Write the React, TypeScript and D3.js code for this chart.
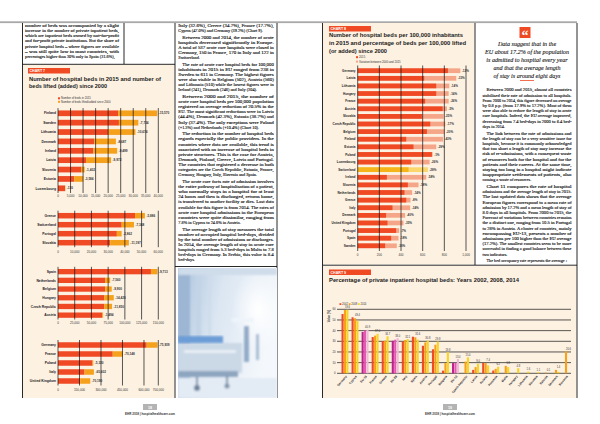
import React from 'react';
import * as d3 from 'd3';

// Chart 7 – beds in 2015 and beds lifted since 2000, four groups
const g1Countries = ['Finland', 'Sweden', 'Lithuania', 'Denmark', 'Ireland', 'Latvia', 'Slovenia', 'Estonia', 'Luxembourg'];
const g1Beds2015 = [24000, 24300, 20200, 14400, 14100, 11200, 9200, 6500, 2800];
const g1Lifted = [15570, 7734, 10674, 8687, 9499, 9972, 1402, 3584, 130];
const g1Ticks = [0, 5000, 10000, 15000, 20000, 25000, 30000, 35000, 40000];

const g2Countries = ['Greece', 'Switzerland', 'Portugal', 'Slovakia'];
const g2Beds2015 = [46100, 38100, 35200, 31200];
const g2Lifted = [5886, 7348, 2862, 11197];
const g2Ticks = [0, 10000, 20000, 30000, 40000, 50000, 60000];

const g3Countries = ['Spain', 'Netherlands', 'Belgium', 'Hungary', 'Czech Republic', 'Austria'];
const g3Beds2015 = [139000, 70500, 70500, 69000, 69000, 66000];
const g3Lifted = [9713, 7560, 9900, 14420, 11850, 1494];
const g3Ticks = [0, 25000, 50000, 75000, 100000, 125000, 150000];

const g4Countries = ['Germany', 'France', 'Poland', 'Italy', 'United Kingdom'];
const g4Beds2015 = [619000, 382000, 241000, 185000, 155000];
const g4Lifted = [75939, 70148, 5330, 65602, 70190];
const g4Ticks = [0, 150000, 300000, 450000, 600000, 700000];

// Chart 8 – beds per 100,000 inhabitants
const c8Countries = ['Germany', 'Latvia', 'Lithuania', 'Hungary', 'France', 'Austria', 'Slovakia', 'Czech Republic', 'Belgium', 'Finland', 'Estonia', 'Poland', 'Luxembourg', 'Switzerland', 'Ireland', 'Slovenia', 'Netherlands', 'Greece', 'Italy', 'Denmark', 'United Kingdom', 'Portugal', 'Spain', 'Sweden'];
const c8Beds2015 = [833, 614, 725, 725, 623, 784, 593, 670, 639, 448, 515, 685, 494, 469, 269, 463, 432, 448, 321, 262, 275, 355, 309, 253];
const c8Beds2000 = [948, 910, 846, 840, 840, 824, 793, 809, 802, 787, 725, 692, 664, 648, 633, 562, 503, 488, 485, 438, 423, 383, 377, 361];
const c8Ticks = [0, 200, 400, 600, 800, 1000];
const c8Highlight = 'Switzerland';

// Chart 9 – percentage of private inpatient beds
const c9Categories = ['Germany', 'Cyprus', 'EU-15', 'France', 'Greece', 'EU-28', 'Italy', 'Spain', 'Austria', 'Portugal', 'Bulgaria', 'EU-13', 'Czech Republic', 'Latvia', 'Poland', 'Romania', 'Malta', 'Hungary', 'Lithuania', 'Slovakia', 'Estonia', 'Denmark', 'Slovenia'];
const c9Years = ['2002', '2008', '2014'];
const c9v2002 = [55.6, 52.5, 38.8, 34.0, 30.2, 30.5, 29.8, 34.3, 25.8, 22.5, 2.5, 9.6, 0, 3.2, 9.8, 2.6, 0, 0, 0, 0, 0, 0, 0];
const c9v2008 = [59.3, 51.6, 40.1, 35.3, 30.6, 31.5, 31.2, 33.8, 28.9, 26.8, 9.5, 9.8, 11.0, 5.8, 9.6, 4.2, 7.0, 0, 0, 0, 0.6, 3.2, 20.6];
const c9v2014 = [59.6, 49.4, 40.9, 37.0, 34.7, 33.0, 32.1, 31.6, 30.8, 29.8, 19.8, 13.4, 15.0, 9.0, 7.4, 6.2, 5.8, 4.8, 1.6, 1.1, 0.1, 1.4, 0];
const c9Ticks = [0, 10, 20, 30, 40, 50, 60];

const RED = '#ef4a24';
const ORANGE = '#f6a11c';
const SALMON = '#f6a688';
const GOLD = '#f4b41a';
const GOLD_LIGHT = '#fad66c';
const YELLOW = '#f9d423';
const MAGENTA = '#c0208e';
const PINK = '#e35aaf';
const PINK_LIGHT = '#f3b7da';
const CREAM = '#fdf1e2';
const SANS = '"Liberation Sans", Arial, sans-serif';
const SERIF = '"Liberation Serif", "DejaVu Serif", serif';

const fmt = d3.format(',');

interface GroupProps {
  countries: string[];
  base: number[];
  extra: number[];
  ticks: number[];
  top: number;
  bottom: number;
  tickY: number;
}

const BarGroup: React.FC<GroupProps> = ({ countries, base, extra, ticks, top, bottom, tickY }) => {
  const x = d3.scaleLinear().domain([0, ticks[ticks.length - 1]]).range([58, 158.3]);
  const y = d3.scaleBand().domain(countries).range([top, bottom]).paddingInner(0.39).paddingOuter(0.195);
  return (
    <g>
      {countries.map((c, i) => (
        <g key={c}>
          <rect x={x(0)} y={y(c)} width={x(base[i]) - x(0)} height={y.bandwidth()} fill={RED} />
          <rect x={x(base[i])} y={y(c)} width={x(base[i] + extra[i]) - x(base[i])} height={y.bandwidth()} fill={ORANGE} />
          <text x={56} y={(y(c) as number) + y.bandwidth() / 2 + 1.2} textAnchor="end" fontSize={3.4} fontWeight="bold" fill="#222">{c}</text>
          <text x={x(base[i] + extra[i]) + 1.5} y={(y(c) as number) + y.bandwidth() / 2 + 1.1} fontSize={3.1} fontWeight="bold" fill="#333">{'-' + fmt(extra[i])}</text>
        </g>
      ))}
      {ticks.map(t => (
        <g key={t}>
          <line x1={x(t)} x2={x(t)} y1={top - 0.5} y2={bottom} stroke="#111" strokeWidth={0.7} />
          <text x={x(t)} y={tickY + 1.1} textAnchor="middle" fontSize={3.1} fill="#333">{fmt(t)}</text>
        </g>
      ))}
    </g>
  );
};

const Chart8: React.FC = () => {
  const x = d3.scaleLinear().domain([0, 1000]).range([357.7, 466]);
  const y = d3.scaleBand().domain(c8Countries).range([66.9, 249.6]).paddingInner(0.38).paddingOuter(0.19);
  return (
    <g>
      {c8Countries.map((c, i) => {
        const hi = c === c8Highlight;
        const pct = Math.round(((c8Beds2015[i] - c8Beds2000[i]) / c8Beds2000[i]) * 100);
        const cy = (y(c) as number) + y.bandwidth() / 2;
        return (
          <g key={c}>
            <rect x={x(0)} y={y(c)} width={x(c8Beds2000[i]) - x(0)} height={y.bandwidth()} fill={hi ? GOLD_LIGHT : SALMON} />
            <rect x={x(0)} y={y(c)} width={x(c8Beds2015[i]) - x(0)} height={y.bandwidth()} fill={hi ? GOLD : RED} />
            <text x={355.5} y={cy + 1.1} textAnchor="end" fontSize={3.1} fontWeight="bold" fill="#222">{c}</text>
            <text x={x(c8Beds2000[i]) + 1.5} y={cy + 1.1} fontSize={3} fontWeight="bold" fill="#333">{pct + '%'}</text>
          </g>
        );
      })}
      {c8Ticks.map(t => (
        <g key={t}>
          <line x1={x(t)} x2={x(t)} y1={65.5} y2={251} stroke="#111" strokeWidth={0.7} />
          <text x={x(t)} y={255.7} textAnchor="middle" fontSize={3.1} fill="#333">{fmt(t)}</text>
        </g>
      ))}
      <rect x={356} y={56.2} width={2} height={2} fill={RED} />
      <text x={359} y={58.1} fontSize={2.8} fill="#333">2015</text>
      <rect x={356} y={60.6} width={2} height={2} fill={SALMON} />
      <text x={359} y={62.5} fontSize={2.8} fill="#333">Variation between 2000 and 2015</text>
    </g>
  );
};

const Chart9: React.FC = () => {
  const x = d3.scaleBand().domain(c9Categories).range([340, 571]).paddingInner(0.25).paddingOuter(0.12);
  const inner = d3.scaleBand().domain(c9Years).range([0, x.bandwidth()]).padding(0.12);
  const y = d3.scaleLinear().domain([0, 60]).range([373.3, 309.3]);
  const series = [c9v2002, c9v2008, c9v2014];
  const colours = (cat: string) => (cat.startsWith('EU') ? [MAGENTA, PINK, PINK_LIGHT] : [RED, ORANGE, YELLOW]);
  return (
    <g>
      {c9Ticks.map(t => (
        <g key={t}>
          <line x1={337} x2={571} y1={y(t)} y2={y(t)} stroke="#111" strokeWidth={0.7} />
          <text x={335.5} y={y(t) + 1} textAnchor="end" fontSize={2.8} fill="#333">{t}</text>
        </g>
      ))}
      {c9Categories.map((cat, i) => {
        const cx = (x(cat) as number) + x.bandwidth() / 2;
        const label = c9v2014[i] > 0 ? c9v2014[i] : c9v2008[i];
        const top = Math.max(c9v2002[i], c9v2008[i], c9v2014[i]);
        return (
          <g key={cat}>
            {series.map((s, k) =>
              s[i] > 0 ? (
                <rect key={k} x={(x(cat) as number) + (inner(c9Years[k]) as number)} y={y(s[i])} width={inner.bandwidth()} height={y(0) - y(s[i])} fill={colours(cat)[k]} />
              ) : null
            )}
            <text x={cx + 2.5} y={y(top) - 1.4} textAnchor="middle" fontSize={2.6} fill="#333">{label.toFixed(1)}</text>
            <text transform={`translate(${cx + 2},376.5) rotate(-50)`} textAnchor="end" fontSize={3} fontWeight="bold" fill="#222">{cat}</text>
          </g>
        );
      })}
      <text transform="translate(330,316) rotate(-90)" textAnchor="middle" fontSize={2.8} fontWeight="bold" fill="#333">Value (%)</text>
      {c9Years.map((yr, k) => (
        <g key={yr}>
          <rect x={339.5 + k * 9.2} y={303.2} width={1.8} height={1.8} fill={[RED, ORANGE, YELLOW][k]} />
          <text x={342 + k * 9.2} y={305} fontSize={2.7} fill="#333">{yr}</text>
        </g>
      ))}
    </g>
  );
};

interface Para { indent: boolean; lines: string[] }

const TextColumn: React.FC<{ x: number; y: number; width: number; lh: number; gap: number; size: number; paras: Para[] }> = ({ x, y, width, lh, gap, size, paras }) => {
  const out: React.ReactNode[] = [];
  let cy = y;
  paras.forEach((p, pi) => {
    p.lines.forEach((line, li) => {
      const ind = li === 0 && p.indent ? 4 : 0;
      const last = li === p.lines.length - 1;
      out.push(
        <text key={pi + '-' + li} x={x + ind} y={cy + size * 0.35} fontSize={size} fontFamily={SERIF} fill="#111"
          stroke="#111" strokeWidth={0.12}
          {...(last ? {} : { textLength: width - ind, lengthAdjust: 'spacingAndGlyphs' })}>{line}</text>
      );
      cy += lh;
    });
    cy += gap;
  });
  return <g>{out}</g>;
};

const leftTop: Para[] = [
  { indent: false, lines: ['number of beds was accompanied by a slight', 'increase in the number of private inpatient beds,', 'which are inpatient beds owned by not-for-profit', 'and for-profit private institutions. But the share of', 'private hospital beds – where figures are available', '– was still quite low in most countries, with', 'percentages higher than 30% only in Spain (31.6%),'] },
];

const leftCol: Para[] = [
  { indent: false, lines: ['Italy (32.6%), Greece (34.7%), France (17.7%),', 'Cyprus (47.0%) and Germany (39.2%) (Chart 9).'] },
  { indent: true, lines: ['Between 2000 and 2014, the number of acute', 'hospitals decreased significantly in Europe.', 'A total of 537 acute care hospitals were closed in', 'Germany, 150 in France, 170 in Italy and 122 in', 'Switzerland.'] },
  { indent: true, lines: ['The rate of acute care hospital beds for 100,000', 'inhabitants in 2015 in EU ranged from 238 in', 'Sweden to 611 in Germany. The highest figures', 'were also visible in Belgium (502), Austria (560)', 'and Lithuania (510) while the lowest figures were in', 'Ireland (241), Denmark (246) and Italy (304).'] },
  { indent: true, lines: ['Between 2000 and 2015, the number of', 'acute care hospital beds per 100,000 population', 'registered an average reduction of 20.5% in the', 'EU. The most significant reductions were in Latvia', '(44.4%), Denmark (42.3%), Estonia (38.7%) and', 'Italy (37.4%). The only exceptions were Poland', '(+1.3%) and Netherlands (+10.4%) (Chart 10).'] },
  { indent: true, lines: ['The reduction in the number of hospital beds', 'regards especially the public providers. In the', 'countries where data are available, this trend is', 'associated with an increase of hospital beds in', 'private structures. This is the case for Austria,', 'Denmark, Finland, Greece, Latvia and Portugal.', 'The countries that registered a decrease in both', 'categories are the Czech Republic, Estonia, France,', 'Germany, Hungary, Italy, Slovenia and Spain.'] },
  { indent: true, lines: ['The acute care facts rate of admission involves', 'the entire pathway of hospitalisation of a patient,', 'who normally stays in a hospital for at least', '24 hours and then is discharged, returns home,', 'is transferred to another facility or dies. Last data', 'available for this figure is from 2014. The rates of', 'acute care hospital admissions in the European', 'countries were quite dissimilar, ranging from', '7.8% in Cyprus to 24.6% in Austria.'] },
  { indent: true, lines: ['The average length of stay measures the total', 'number of occupied hospital bed-days, divided', 'by the total number of admissions or discharges.', 'In 2014, the average length of stay in acute care', 'hospitals ranged from 5.3 bed-days in Malta to 7.8', 'bed-days in Germany. In Serbia, this value is 8.4', 'bed-days.'] },
];

const rightCol: Para[] = [
  { indent: true, lines: ['Between 2000 and 2015, almost all countries', 'stabilised their rate of admission to all hospitals.', 'From 2000 to 2014, this figure decreased on average', 'by 0.8 p.p. (from 17.9% to 17.2%). Most of them', 'were also able to reduce the length of stay in acute', 'care hospitals. Indeed, the EU average improved,', 'decreasing from 7.4 bed-days in 2000 to 6.4 bed-', 'days in 2014.'] },
  { indent: true, lines: ['The link between the rate of admissions and', 'the length of stay can be a very sensitive issue for', 'hospitals, because it is commonly acknowledged', 'that too short a length of stay may increase the', 'risk of re-admissions, with a consequent waste', 'of resources both for the hospital and for the', 'patients and their careers. At the same time,', 'staying too long in a hospital might indicate', 'inappropriate settlements of patients, also', 'causing a waste of resources.'] },
  { indent: true, lines: ['Chart 11 compares the rate of hospital', 'admissions and the average length of stay in 2015.', 'The last updated data shows that the average', 'European figures correspond to a mean rate of', 'admission by 17.2% and a mean length of stay of', '8.0 days in all hospitals. From 2000 to 2015, the', 'Forecast of variations between countries remains', 'the a distinct one, ranging from 10.5 in Portugal', 'to 28% in Austria. A cluster of countries, mainly', 'encompassing EU-13, presents a number of', 'admissions per 100 higher than the EU average', '(17.2%). The smallest countries seem to be more', 'successful in finding a good balance between these', 'two indicators.'] },
  { indent: true, lines: ['The bed occupancy rate represents the average ›'] },
];

const quoteLines = ['Data suggest that in the', 'EU about 17.2% of the population', 'is admitted to hospital every year', 'and that the average length', 'of stay is around eight days'];

const Tag: React.FC<{ x: number; y: number; label: string }> = ({ x, y, label }) => (
  <g>
    <rect x={x} y={y} width={42} height={5.5} fill={RED} />
    <text x={x + 1.5} y={y + 4} fontSize={3.6} fontWeight="bold" fill="#fff">{label}</text>
  </g>
);

const Photo: React.FC = () => (
  <g>
    <defs>
      <linearGradient id="ph" x1="0" y1="0" x2="1" y2="0.3">
        <stop offset="0" stopColor="#aac2dc" />
        <stop offset="0.45" stopColor="#dbe6f2" />
        <stop offset="1" stopColor="#f4f8fc" />
      </linearGradient>
      <radialGradient id="glow" cx="0.5" cy="0.5" r="0.5">
        <stop offset="0" stopColor="#ffffff" />
        <stop offset="1" stopColor="#ffffff" stopOpacity={0} />
      </radialGradient>
      <filter id="soft"><feGaussianBlur stdDeviation="1.2" /></filter>
      <clipPath id="phc"><rect x={178} y={268} width={99} height={130} /></clipPath>
    </defs>
    <g clipPath="url(#phc)">
      <rect x={178} y={268} width={99} height={130} fill="url(#ph)" />
      <g filter="url(#soft)">
        <rect x={178} y={268} width={12} height={130} fill="#9cb6d4" />
        <rect x={196} y={272} width={5} height={70} fill="#c3d4e7" />
        <rect x={208} y={276} width={3} height={60} fill="#cfdcea" />
        <ellipse cx={258} cy={310} rx={26} ry={40} fill="url(#glow)" />
        <rect x={178} y={268} width={99} height={7} fill="#cfdcea" />
        <rect x={232} y={318} width={22} height={4} fill="#eef4fa" />
        <rect x={244} y={326} width={5} height={36} fill="#93abc7" />
        <rect x={256} y={334} width={3} height={26} fill="#a9bdd4" />
        <rect x={178} y={343} width={64} height={30} fill="#cbd8e6" />
        <rect x={184} y={350} width={52} height={3} fill="#e8eef5" />
        <rect x={178} y={371} width={60} height={6} fill="#8ea5bf" />
        <rect x={178} y={378} width={99} height={20} fill="#e3ebf4" />
        <rect x={196} y={377} width={2} height={10} fill="#7d93ab" />
        <rect x={226} y={376} width={2} height={9} fill="#7d93ab" />
        <circle cx={197} cy={388} r={3} fill="#6d839b" />
        <circle cx={227} cy={386} r={2.5} fill="#7d93ab" />
      </g>
      <rect x={178} y={336} width={45} height={7} fill="#6d9dd6" filter="url(#soft)" />
    </g>
  </g>
);

export default function App() {
  return (
    <svg width={600} height={424} viewBox="0 0 600 424" style={{ position: 'absolute', left: 0, top: 0, background: '#fff' }} fontFamily={SANS}>
      {/* page furniture */}
      <rect x={0} y={21.3} width={577} height={1.8} fill="#a8a8a8" />
      <rect x={22.5} y={64.5} width={152} height={333.5} fill={CREAM} />
      <rect x={322.5} y={23} width={152} height={241.5} fill={CREAM} />
      <rect x={322.5} y={266} width={254} height={132} fill={CREAM} />
      <g stroke="#111" strokeWidth={0.9}>
        <line x1={22.5} x2={22.5} y1={23} y2={398} />
        <line x1={124} x2={124} y1={23} y2={64} />
        <line x1={22.5} x2={175} y1={64.3} y2={64.3} />
        <line x1={175} x2={175} y1={23} y2={398} />
        <line x1={277} x2={277} y1={23} y2={398} />
        <line x1={175} x2={277} y1={266.5} y2={266.5} />
        <line x1={322.5} x2={322.5} y1={23} y2={398} />
        <line x1={475} x2={475} y1={23} y2={265} />
        <line x1={322.5} x2={577} y1={265.2} y2={265.2} />
        <line x1={577} x2={577} y1={23} y2={398} />
      </g>

      {/* left page text */}
      <TextColumn x={25} y={25.5} width={94} lh={5.15} gap={0} size={4.3} paras={leftTop} />
      <TextColumn x={178.3} y={25.5} width={95.5} lh={5.15} gap={1.3} size={4.3} paras={leftCol} />
      <Photo />

      {/* chart 7 */}
      <Tag x={28} y={68} label="CHART 7" />
      <text x={29} y={80.5} fontSize={6.2} fontWeight="bold" fill="#1a1a1a" textLength={132} lengthAdjust="spacingAndGlyphs">Number of hospital beds in 2015 and number of</text>
      <text x={29} y={88.3} fontSize={6.2} fontWeight="bold" fill="#1a1a1a" textLength={78} lengthAdjust="spacingAndGlyphs">beds lifted (added) since 2000</text>
      <rect x={58} y={97.3} width={2} height={2} fill={RED} />
      <text x={61} y={99.2} fontSize={2.8} fill="#333">Number of beds in 2015</text>
      <rect x={58} y={100.8} width={2} height={2} fill={ORANGE} />
      <text x={61} y={102.7} fontSize={2.8} fill="#333">Number of beds lifted/added since 2000</text>
      <BarGroup countries={g1Countries} base={g1Beds2015} extra={g1Lifted} ticks={g1Ticks} top={108.6} bottom={193} tickY={195.5} />
      <BarGroup countries={g2Countries} base={g2Beds2015} extra={g2Lifted} ticks={g2Ticks} top={211.2} bottom={247.2} tickY={251.7} />
      <BarGroup countries={g3Countries} base={g3Beds2015} extra={g3Lifted} ticks={g3Ticks} top={267.3} bottom={319.5} tickY={323.3} />
      <BarGroup countries={g4Countries} base={g4Beds2015} extra={g4Lifted} ticks={g4Ticks} top={340.5} bottom={385.5} tickY={390} />

      {/* chart 8 */}
      <Tag x={329} y={26} label="CHART 8" />
      <text x={329} y={37} fontSize={6.2} fontWeight="bold" fill="#1a1a1a" textLength={134} lengthAdjust="spacingAndGlyphs">Number of hospital beds per 100,000 inhabitants</text>
      <text x={329} y={45} fontSize={6.2} fontWeight="bold" fill="#1a1a1a" textLength={137} lengthAdjust="spacingAndGlyphs">in 2015 and percentage of beds per 100,000 lifted</text>
      <text x={329} y={53} fontSize={6.2} fontWeight="bold" fill="#1a1a1a" textLength={58} lengthAdjust="spacingAndGlyphs">(or added) since 2000</text>
      <Chart8 />

      {/* quote */}
      <rect x={519.5} y={27} width={11} height={11} fill={RED} />
      <text x={525} y={39.5} textAnchor="middle" fontSize={14} fontWeight="bold" fontFamily={SERIF} fill="#fff">“</text>
      {quoteLines.map((l, i) => (
        <text key={l} x={527} y={46 + i * 7.9} textAnchor="middle" fontSize={6.1} fontStyle="italic" fontFamily={SERIF} fill="#111" stroke="#111" strokeWidth={0.1}>{l}</text>
      ))}
      <rect x={520} y={80} width={14} height={0.8} fill={RED} />
      <TextColumn x={482.5} y={90} width={89} lh={5.2} gap={1.5} size={4.2} paras={rightCol} />

      {/* chart 9 */}
      <Tag x={329} y={269.5} label="CHART 9" />
      <text x={329} y={282} fontSize={6} fontWeight="bold" fill="#1a1a1a" textLength={190} lengthAdjust="spacingAndGlyphs">Percentage of private inpatient hospital beds: Years 2002, 2008, 2014</text>
      <Chart9 />

      {/* footers */}
      {[150, 450].map((cx, i) => (
        <g key={cx}>
          <rect x={cx - 7} y={404} width={14} height={6} fill="#b3b3b3" />
          <text x={cx} y={408.5} textAnchor="middle" fontSize={3.6} fontWeight="bold" fill="#fff">{i === 0 ? '18' : '19'}</text>
          <text x={cx} y={414.5} textAnchor="middle" fontSize={3} fontWeight="bold" fill="#333">EHR 2018 | hospitalhealthcare.com</text>
        </g>
      ))}
    </svg>
  );
}
